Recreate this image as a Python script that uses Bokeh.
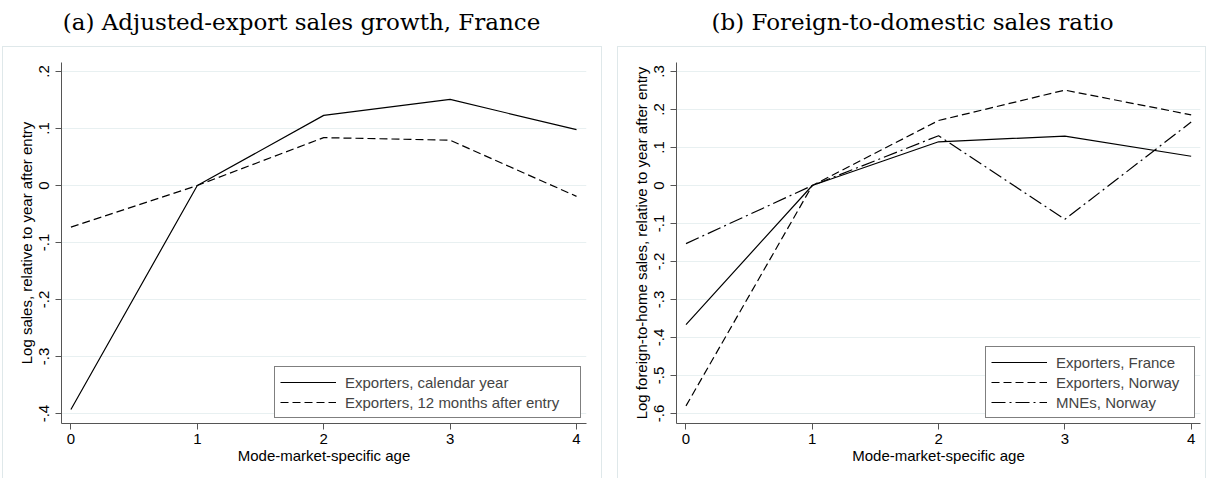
from bokeh.plotting import figure
from bokeh.models import Range1d, FixedTicker, Legend, LegendItem, Spacer
from bokeh.layouts import row, column
from bokeh.core.properties import value
from bokeh.embed import file_html
from bokeh.resources import INLINE

# ---------------- data ----------------
ages = [0, 1, 2, 3, 4]
x_ticks = [0, 1, 2, 3, 4]

# panel (a)
a_title = "(a) Adjusted-export sales growth, France"
a_ylabel = "Log sales, relative to year after entry"
a_calendar = [-0.393, 0.0, 0.123, 0.151, 0.098]
a_12months = [-0.073, 0.0, 0.084, 0.0795, -0.019]
a_names = ["Exporters, calendar year", "Exporters, 12 months after entry"]
a_yticks = [-0.4, -0.3, -0.2, -0.1, 0.0, 0.1, 0.2]
a_ylabels = ["-.4", "-.3", "-.2", "-.1", "0", ".1", ".2"]

# panel (b)
b_title = "(b) Foreign-to-domestic sales ratio"
b_ylabel = "Log foreign-to-home sales, relative to year after entry"
b_exp_france = [-0.366, 0.0, 0.115, 0.130, 0.077]
b_exp_norway = [-0.580, 0.0, 0.171, 0.251, 0.186]
b_mne_norway = [-0.153, 0.0, 0.131, -0.089, 0.167]
b_names = ["Exporters, France", "Exporters, Norway", "MNEs, Norway"]
b_yticks = [-0.6, -0.5, -0.4, -0.3, -0.2, -0.1, 0.0, 0.1, 0.2, 0.3]
b_ylabels = ["-.6", "-.5", "-.4", "-.3", "-.2", "-.1", "0", ".1", ".2", ".3"]

x_label = "Mode-market-specific age"

SANS = "Liberation Sans"
SERIF = "DejaVu Serif"
GRID = "#e8f0f1"
BOXC = "#dfe8ea"
AXC = "#555555"
BOX_CSS = (":host { box-shadow: inset 1px 1px 0 0 %s, inset -1px 0 0 0 %s; }"
           % (BOXC, BOXC))


def title_fig(text, width, height, cx):
    t = figure(width=width, height=height, output_backend="svg",
               toolbar_location=None, x_range=Range1d(0, width),
               y_range=Range1d(0, height), min_border=0)
    t.axis.visible = False
    t.grid.visible = False
    t.outline_line_color = None
    t.background_fill_color = "white"
    t.border_fill_color = "white"
    t.text(x=[cx], y=[height - 21], text=[text], text_align="center",
           text_baseline="middle", text_font=value(SERIF),
           text_font_size="23px", text_color="black")
    return t


def style(p, yticks, ylabels, ylabel):
    p.background_fill_color = "white"
    p.border_fill_color = None
    p.outline_line_color = None
    p.xgrid.grid_line_color = None
    p.ygrid.grid_line_color = GRID
    p.ygrid.grid_line_width = 1.2
    p.xaxis.ticker = FixedTicker(ticks=x_ticks)
    p.yaxis.ticker = FixedTicker(ticks=yticks)
    p.yaxis.major_label_overrides = {t: l for t, l in zip(yticks, ylabels)}
    p.yaxis.major_label_orientation = "vertical"
    for ax in (p.xaxis, p.yaxis):
        ax.axis_line_color = AXC
        ax.major_tick_line_color = AXC
        ax.minor_tick_line_color = None
        ax.major_tick_out = 6
        ax.major_tick_in = 0
        ax.major_label_text_font = SANS
        ax.major_label_text_font_size = "15px"
        ax.major_label_text_color = "black"
        ax.axis_label_text_font = SANS
        ax.axis_label_text_font_size = "15px"
        ax.axis_label_text_font_style = "normal"
        ax.axis_label_text_color = "black"
    p.xaxis.major_label_standoff = 4
    p.xaxis.axis_label_standoff = 0
    p.yaxis.major_label_standoff = 6
    p.yaxis.axis_label_standoff = 2
    p.xaxis.axis_label = x_label
    p.yaxis.axis_label = ylabel


def add_legend(p, items, label_width):
    lg = Legend(items=items, location="bottom_right", margin=5, padding=5,
                spacing=0, label_height=20, glyph_height=20, glyph_width=56,
                label_standoff=9, label_width=label_width,
                label_text_font=SANS, label_text_font_size="15px",
                border_line_color="black", border_line_width=1,
                background_fill_color="white", background_fill_alpha=1.0)
    p.add_layout(lg)


H = 432
TH = 46

# ---------------- panel (a) ----------------
pa = figure(width=600, height=H, output_backend="svg", toolbar_location=None,
            x_range=Range1d(-0.0744, 4.079), y_range=Range1d(-0.4175, 0.2158),
            min_border_left=59, min_border_right=16, min_border_top=16,
            min_border_bottom=55, stylesheets=[BOX_CSS])
style(pa, a_yticks, a_ylabels, a_ylabel)
ra1 = pa.line(ages, a_calendar, line_color="black", line_width=1.2)
ra2 = pa.line(ages, a_12months, line_color="black", line_width=1.2, line_dash="8 4")
add_legend(pa, [LegendItem(label=a_names[0], renderers=[ra1]),
                LegendItem(label=a_names[1], renderers=[ra2])], 230)

# ---------------- panel (b) ----------------
pb = figure(width=589, height=H, output_backend="svg", toolbar_location=None,
            x_range=Range1d(-0.0752, 4.074), y_range=Range1d(-0.6263, 0.3237),
            min_border_left=59, min_border_right=6, min_border_top=16,
            min_border_bottom=55, stylesheets=[BOX_CSS])
style(pb, b_yticks, b_ylabels, b_ylabel)
rb1 = pb.line(ages, b_exp_france, line_color="black", line_width=1.2)
rb2 = pb.line(ages, b_exp_norway, line_color="black", line_width=1.2, line_dash="8 4")
rb3 = pb.line(ages, b_mne_norway, line_color="black", line_width=1.2, line_dash="14 4 2 4")
add_legend(pb, [LegendItem(label=b_names[0], renderers=[rb1]),
                LegendItem(label=b_names[1], renderers=[rb2]),
                LegendItem(label=b_names[2], renderers=[rb3])], 133)

ta = title_fig(a_title, 609, TH, 301)
tb = title_fig(b_title, 597, TH, 912 - 609)

layout = column(
    row(ta, tb),
    row(Spacer(width=2, height=H), pa, Spacer(width=15, height=H), pb),
)
open("out.html", "w").write(file_html(layout, INLINE))
